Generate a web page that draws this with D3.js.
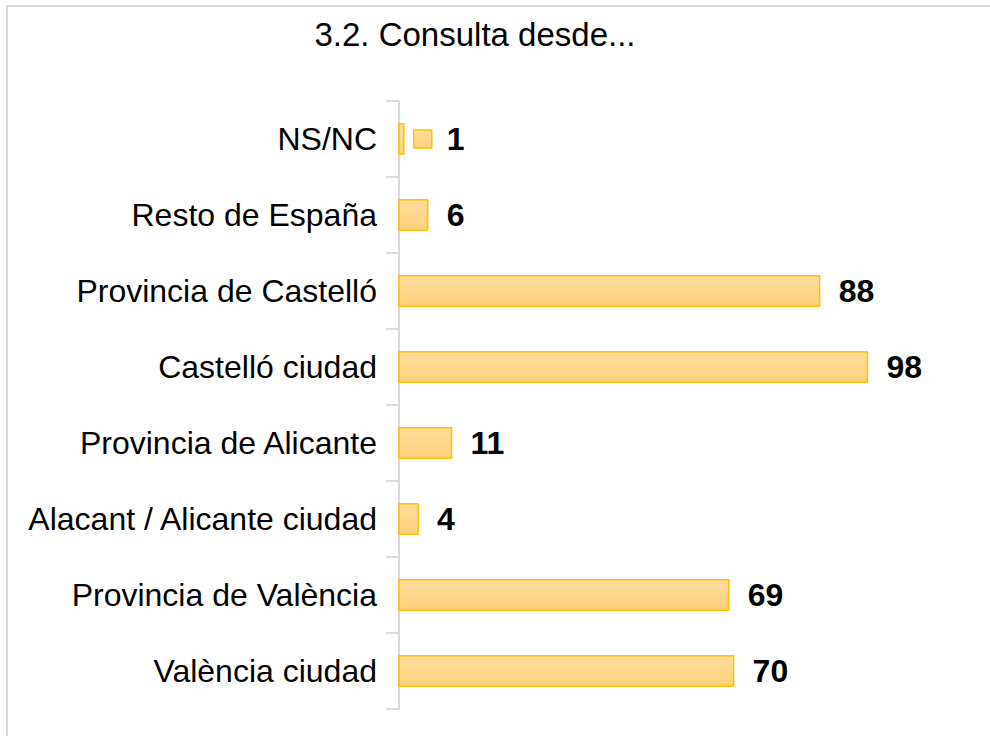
<!DOCTYPE html>
<html>
<head>
<meta charset="utf-8">
<script src="https://cdn.jsdelivr.net/npm/d3@7"></script>
<style>
  body { margin: 0; background: #fff; }
  svg text { font-family: "Liberation Sans", Arial, sans-serif; }
</style>
</head>
<body>
<div id="chart"></div>
<script>
const categories = [
  "NS/NC",
  "Resto de España",
  "Provincia de Castelló",
  "Castelló ciudad",
  "Provincia de Alicante",
  "Alacant / Alicante ciudad",
  "Provincia de València",
  "València ciudad"
];
const values = [1, 6, 88, 98, 11, 4, 69, 70];
// data labels that also show the legend key
const keyLabels = ["NS/NC"];
const title = "3.2. Consulta desde...";

const width = 990;
const height = 736;

const svg = d3
  .select("#chart")
  .append("svg")
  .attr("width", width)
  .attr("height", height);

const defs = svg.append("defs");
const grad = defs
  .append("linearGradient")
  .attr("id", "barFill")
  .attr("x1", 0).attr("y1", 0)
  .attr("x2", 0).attr("y2", 1);
grad.append("stop").attr("offset", "0%").attr("stop-color", "#FFDC9E");
grad.append("stop").attr("offset", "100%").attr("stop-color", "#FFD27A");

// chart area border (top and left visible)
svg
  .append("path")
  .attr("d", "M7,736 V6 H990")
  .attr("fill", "none")
  .attr("stroke", "#D9D9D9")
  .attr("stroke-width", 2);

// title
svg
  .append("text")
  .attr("x", 475)
  .attr("y", 46)
  .attr("text-anchor", "middle")
  .attr("font-size", 33)
  .attr("fill", "#000")
  .text(title);

const x = d3.scaleLinear().domain([0, 100]).range([399, 877]);
const y = d3
  .scaleBand()
  .domain(categories)
  .range([101, 709])
  .paddingInner(0.6)
  .paddingOuter(0.3);

// ------------
// CATEGORY AXIS
// ------------
const axisG = svg.append("g");
axisG
  .append("line")
  .attr("x1", 399).attr("x2", 399)
  .attr("y1", 101).attr("y2", 710)
  .attr("stroke", "#D9D9D9")
  .attr("stroke-width", 2);

const boundaries = d3.range(categories.length + 1).map((i) => 101 + i * ((709 - 101) / categories.length));
axisG
  .selectAll("line.tick")
  .data(boundaries)
  .enter()
  .append("line")
  .attr("class", "tick")
  .attr("x1", 386).attr("x2", 399)
  .attr("y1", (d) => d).attr("y2", (d) => d)
  .attr("stroke", "#D9D9D9")
  .attr("stroke-width", 2);

axisG
  .selectAll("text")
  .data(categories)
  .enter()
  .append("text")
  .attr("x", 377)
  .attr("y", (d) => y(d) + y.bandwidth() / 2)
  .attr("dy", "0.35em")
  .attr("text-anchor", "end")
  .attr("font-size", 32)
  .attr("fill", "#000")
  .text((d) => d);

// ----
// BARS
// ----
const rows = categories.map((c, i) => ({ category: c, value: values[i] }));

svg
  .selectAll("rect.bar")
  .data(rows)
  .enter()
  .append("rect")
  .attr("class", "bar")
  .attr("x", x(0))
  .attr("y", (d) => y(d.category))
  .attr("width", (d) => x(d.value) - x(0))
  .attr("height", y.bandwidth())
  .attr("fill", "url(#barFill)")
  .attr("stroke", "#FFC000")
  .attr("stroke-width", 1.5);

// -----------
// DATA LABELS
// -----------
const labels = svg.selectAll("g.label").data(rows).enter().append("g").attr("class", "label");

labels
  .filter((d) => keyLabels.includes(d.category))
  .append("rect")
  .attr("x", (d) => x(d.value) + 10)
  .attr("y", (d) => y(d.category) + y.bandwidth() / 2 - 9)
  .attr("width", 18)
  .attr("height", 18)
  .attr("fill", "url(#barFill)")
  .attr("stroke", "#FFC000")
  .attr("stroke-width", 1.5);

labels
  .append("text")
  .attr("x", (d) => x(d.value) + (keyLabels.includes(d.category) ? 43 : 19))
  .attr("y", (d) => y(d.category) + y.bandwidth() / 2)
  .attr("dy", "0.35em")
  .attr("font-size", 32)
  .attr("font-weight", "bold")
  .attr("fill", "#000")
  .text((d) => d.value);
</script>
</body>
</html>
